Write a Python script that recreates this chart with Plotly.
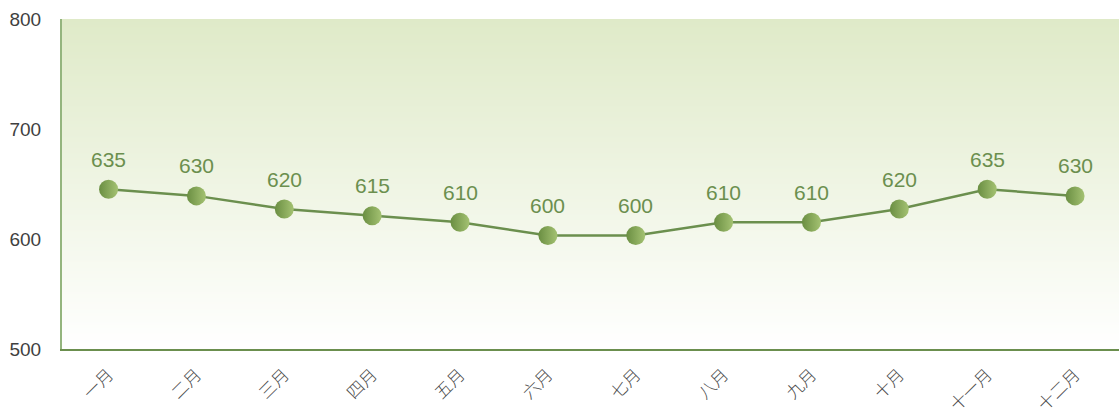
import base64
import struct
import zlib

import plotly.graph_objects as go

months = ["一月", "二月", "三月", "四月", "五月", "六月", "七月", "八月", "九月", "十月", "十一月", "十二月"]
values = [635, 630, 620, 615, 610, 600, 600, 610, 610, 620, 635, 630]
y_ticks = [500, 600, 700, 800]

GREEN = "#6b8f4e"


def gradient_png(top, bottom, n=330):
    """Build a 1 x n vertical gradient PNG as a data URI."""
    rows = b""
    for i in range(n):
        t = i / (n - 1)
        px = bytes(round(top[k] + (bottom[k] - top[k]) * t) for k in range(3))
        rows += b"\x00" + px

    def chunk(tag, data):
        c = struct.pack(">I", len(data)) + tag + data
        return c + struct.pack(">I", zlib.crc32(tag + data) & 0xFFFFFFFF)

    png = b"\x89PNG\r\n\x1a\n"
    png += chunk(b"IHDR", struct.pack(">IIBBBBB", 1, n, 8, 2, 0, 0, 0))
    png += chunk(b"IDAT", zlib.compress(rows))
    png += chunk(b"IEND", b"")
    return "data:image/png;base64," + base64.b64encode(png).decode()


fig = go.Figure()

# invisible anchor trace so the labelled y axis (500-800) is drawn
fig.add_trace(go.Scatter(
    x=[months[0]] * len(y_ticks), y=y_ticks, mode="markers",
    marker=dict(opacity=0, size=1), hoverinfo="skip", showlegend=False,
))

fig.add_trace(go.Scatter(
    x=months, y=values, yaxis="y2", mode="lines+markers",
    line=dict(color=GREEN, width=2.5),
    marker=dict(size=19, color="#6a8e42", line=dict(width=0),
                gradient=dict(type="horizontal", color="#a4c272")),
    hoverinfo="x+y", showlegend=False,
))

for m, v in zip(months, values):
    fig.add_annotation(x=m, y=v, yref="y2", text=str(v), showarrow=False,
                       yanchor="middle", yshift=30,
                       font=dict(size=21, color=GREEN, family="Liberation Sans, Arial, sans-serif"))

fig.add_layout_image(
    source=gradient_png((223, 234, 200), (255, 255, 255)),
    xref="paper", yref="paper", x=0, y=1, sizex=1, sizey=1,
    xanchor="left", yanchor="top", sizing="stretch", layer="below",
)

fig.update_layout(
    width=1120, height=420,
    margin=dict(l=62, r=1, t=19, b=71),
    paper_bgcolor="white", plot_bgcolor="rgba(0,0,0,0)",
    xaxis=dict(type="category", categoryorder="array", categoryarray=months,
               range=[-0.53, 11.5], showgrid=False, zeroline=False, automargin=False,
               showline=True, linecolor=GREEN, linewidth=2,
               tickangle=-45, ticks="", ticklabelstandoff=7,
               tickfont=dict(size=17, color="#4a4a4a", family="Noto Sans CJK SC", weight=300)),
    yaxis=dict(range=[500, 800], tickvals=y_ticks, showgrid=False, zeroline=False, automargin=False,
               showline=True, linecolor="#94b57e", linewidth=2, ticks="",
               ticklabelstandoff=15,
               tickfont=dict(size=19, color="#3f3f3f", family="Liberation Sans, Arial, sans-serif")),
    yaxis2=dict(range=[514, 764], overlaying="y", visible=False),
)

fig.write_html("out.html", config={"displayModeBar": False},
               post_script="document.body.style.margin='0';")
